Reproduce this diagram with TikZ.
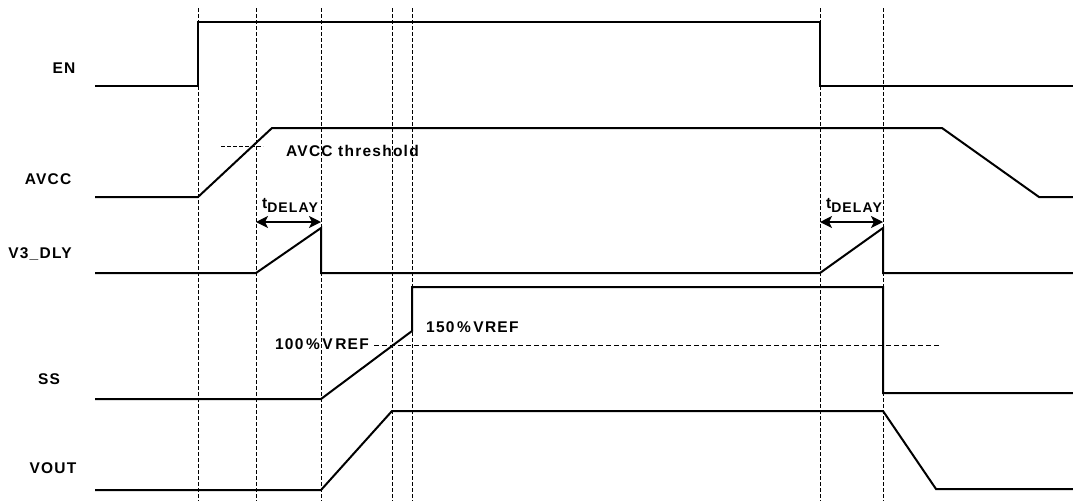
\documentclass[tikz,border=0pt]{standalone}
\usepackage{fontspec}
\setmainfont{Liberation Sans}[LetterSpace=8]
\usetikzlibrary{arrows.meta}
\tikzset{
  sig/.style={line width=2pt, line join=miter},
  guide/.style={line width=0.9pt, dash pattern=on 4pt off 2pt},
  refl/.style={line width=0.9pt, dash pattern=on 5pt off 3pt},
  lbl/.style={font=\fontsize{15.5}{15.5}\selectfont\bfseries, inner sep=0pt},
  dly/.style={line width=1.5pt, {Stealth[length=12pt,width=12pt,inset=3pt]}-{Stealth[length=12pt,width=12pt,inset=3pt]}}
}
\newcommand{\tdly}{t\raisebox{-4pt}{\fontsize{14}{14}\selectfont DELAY}}
\begin{document}
\begin{tikzpicture}[x=1pt,y=-1pt]
\useasboundingbox (0,0) rectangle (1073,501);
% guide lines
\foreach \gx in {198,256,321,392,412,820,883}
  \draw[guide] (\gx,8) -- (\gx,501);
% labels
\node[lbl] (lEN) at (64,68) {EN};
\node[lbl] (lAVCC) at (48,179) {AVCC};
\node[lbl] (lV3) at (40,254) {V3\_DLY};
\node[lbl] (lSS) at (49,379) {SS};
\node[lbl] (lVOUT) at (53,468) {VOUT};
% EN
\draw[sig] (95,86) -- (198,86) -- (198,22) -- (820,22) -- (820,86) -- (1073,86);
% AVCC
\draw[sig] (95,197) -- (198,197) -- (272,128) -- (942,128) -- (1039,197) -- (1073,197);
\draw[guide] (221,146) -- (263,146);
\node[lbl, anchor=west] (tAV) at (286,151) {AVCC threshold};
% V3_DLY
\draw[sig] (95,273) -- (256,273) -- (321,228) -- (321,273) -- (820,273) -- (883,228) -- (883,273) -- (1073,273);
\coordinate (d1a) at (256,222); \coordinate (d1b) at (321,222);
\coordinate (d2a) at (820,222); \coordinate (d2b) at (883,222);
\draw[dly] (d1a) -- (d1b);
\draw[dly] (d2a) -- (d2b);
\node[lbl] (td1) at (290,205) {\tdly};
\node[lbl] (td2) at (854,205) {\tdly};
% SS
\draw[sig] (95,399) -- (321,399) -- (412,331) -- (412,287) -- (883,287) -- (883,393) -- (1073,393);
\draw[refl] (374,345) -- (940,345);
\node[lbl, anchor=east] (t100) at (369,344) {100\,\%\,V\,REF};
\node[lbl, anchor=west] (t150) at (426,327) {150\,\%\,VREF};
% VOUT
\draw[sig] (95,490) -- (321,490) -- (392,411) -- (883,411) -- (936,489) -- (1073,489);
\end{tikzpicture}
\end{document}
